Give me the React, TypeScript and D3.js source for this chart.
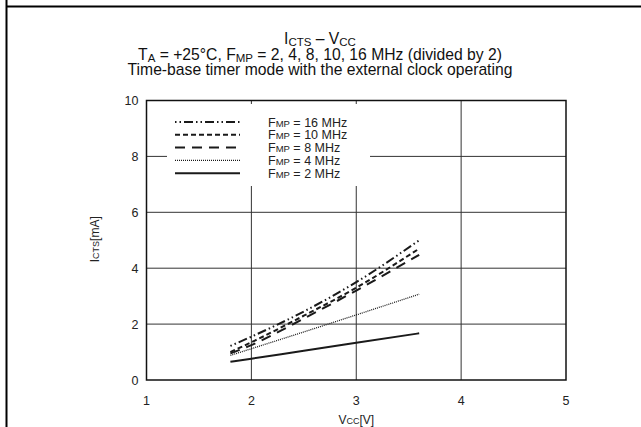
import React, { useRef, useEffect } from 'react';
import * as d3 from 'd3';

// Vcc sample points (V)
const vcc = [1.8, 2.0, 2.5, 3.0, 3.6];

// Icts (mA) per Fmp
const fmp16 = [1.22, 1.55, 2.45, 3.5, 5.0];
const fmp10 = [1.0, 1.35, 2.3, 3.3, 4.7];
const fmp8 = [0.95, 1.25, 2.2, 3.2, 4.48];
const fmp4 = [0.88, 1.12, 1.72, 2.33, 3.07];
const fmp2 = [0.65, 0.76, 1.05, 1.33, 1.67];

const xTicks = [1, 2, 3, 4, 5];
const yTicks = [0, 2, 4, 6, 8, 10];

const seriesNames = ['16', '10', '8', '4', '2'];

const App = () => {
  const chartRef = useRef(null);

  useEffect(() => {
    document.body.style.margin = '0';
    document.body.style.overflow = 'hidden';

    const W = 641, H = 427;
    const margin = { top: 100.5, left: 146.5 };
    const width = 566 - margin.left;
    const height = 380 - margin.top;
    const font = 'Liberation Sans, Arial, sans-serif';

    d3.select(chartRef.current).select('svg').remove();

    const root = d3.select(chartRef.current)
      .append('svg')
      .attr('width', W)
      .attr('height', H)
      .style('display', 'block')
      .style('font-family', font);

    root.append('rect').attr('width', W).attr('height', H).attr('fill', '#fff');

    // outer frame (top + left)
    root.append('line').attr('x1', 6.5).attr('x2', 6.5).attr('y1', 0).attr('y2', H)
      .attr('stroke', '#000').attr('stroke-width', 2);
    root.append('line').attr('x1', 6).attr('x2', W).attr('y1', 6.5).attr('y2', 6.5)
      .attr('stroke', '#000').attr('stroke-width', 2);

    // title
    const title = root.append('g').attr('text-anchor', 'middle').attr('font-size', 15.7).attr('fill', '#111');
    const t1 = title.append('text').attr('x', 320).attr('y', 43.5);
    t1.append('tspan').text('I');
    t1.append('tspan').attr('font-size', 11.5).attr('dy', 2.5).text('CTS');
    t1.append('tspan').attr('dy', -2.5).text(' – V');
    t1.append('tspan').attr('font-size', 11.5).attr('dy', 2.5).text('CC');
    const t2 = title.append('text').attr('x', 320).attr('y', 59.5);
    t2.append('tspan').text('T');
    t2.append('tspan').attr('font-size', 11.5).attr('dy', 2.5).text('A');
    t2.append('tspan').attr('dy', -2.5).text(' = +25°C, F');
    t2.append('tspan').attr('font-size', 11.5).attr('dy', 2.5).text('MP');
    t2.append('tspan').attr('dy', -2.5).text(' = 2, 4, 8, 10, 16 MHz (divided by 2)');
    title.append('text').attr('x', 320).attr('y', 75)
      .text('Time-base timer mode with the external clock operating');

    const svg = root.append('g')
      .attr('transform', `translate(${margin.left},${margin.top})`);

    const x = d3.scaleLinear().domain([1, 5]).range([0, width]);
    const y = d3.scaleLinear().domain([0, 10]).range([height, 0]);

    // grid
    svg.append('g')
      .selectAll('line')
      .data(xTicks.slice(1, -1))
      .enter()
      .append('line')
      .attr('x1', d => x(d)).attr('x2', d => x(d))
      .attr('y1', 0).attr('y2', height)
      .attr('stroke', '#333').attr('stroke-width', 1);
    svg.append('g')
      .selectAll('line')
      .data(yTicks.slice(1, -1))
      .enter()
      .append('line')
      .attr('x1', 0).attr('x2', width)
      .attr('y1', d => y(d)).attr('y2', d => y(d))
      .attr('stroke', '#333').attr('stroke-width', 1);

    // tick labels
    svg.append('g')
      .attr('font-size', 12.5).attr('fill', '#222').attr('text-anchor', 'end')
      .selectAll('text')
      .data(yTicks)
      .enter()
      .append('text')
      .attr('x', -8)
      .attr('y', d => y(d) + 4.5)
      .text(d => d);
    svg.append('g')
      .attr('font-size', 12.5).attr('fill', '#222').attr('text-anchor', 'middle')
      .selectAll('text')
      .data(xTicks)
      .enter()
      .append('text')
      .attr('x', d => x(d))
      .attr('y', height + 24.5)
      .text(d => d);

    // axis titles
    const xt = svg.append('text').attr('x', x(3)).attr('y', height + 43.5)
      .attr('text-anchor', 'middle').attr('font-size', 12).attr('fill', '#222');
    xt.append('tspan').text('V');
    xt.append('tspan').attr('font-size', 9).text('CC');
    xt.append('tspan').text('[V]');
    const yt = svg.append('text')
      .attr('transform', `translate(${-48},${y(5) - 1}) rotate(-90)`)
      .attr('text-anchor', 'middle').attr('font-size', 12).attr('fill', '#222');
    yt.append('tspan').text('I');
    yt.append('tspan').attr('font-size', 9).text('CTS');
    yt.append('tspan').text('[mA]');

    // series
    const styles = {
      '16': { dash: '1.5,3,1.5,3,9,3', w: 2 },
      '10': { dash: '5,3', w: 2 },
      '8': { dash: '10,7', w: 2 },
      '4': { dash: '1,1', w: 1.3 },
      '2': { dash: null, w: 2 },
    };
    const data = [
      { name: '16', values: fmp16 },
      { name: '10', values: fmp10 },
      { name: '8', values: fmp8 },
      { name: '4', values: fmp4 },
      { name: '2', values: fmp2 },
    ];

    const line = d3.line()
      .x((d, i) => x(vcc[i]))
      .y(d => y(d))
      .curve(d3.curveMonotoneX);

    svg.selectAll('.series')
      .data(data)
      .enter()
      .append('path')
      .attr('class', 'series')
      .attr('d', d => line(d.values))
      .attr('fill', 'none')
      .attr('stroke', '#1a1a1a')
      .attr('stroke-width', d => styles[d.name].w)
      .attr('stroke-dasharray', d => styles[d.name].dash);

    // legend
    const legend = root.append('g');
    legend.append('rect')
      .attr('x', 167).attr('y', 104).attr('width', 203).attr('height', 82)
      .attr('fill', '#fff');
    const rows = legend.selectAll('g.row')
      .data(seriesNames)
      .enter()
      .append('g')
      .attr('transform', (d, i) => `translate(0,${122 + i * 12.8})`);
    rows.append('line')
      .attr('x1', 175).attr('x2', 240).attr('y1', 0).attr('y2', 0)
      .attr('stroke', '#1a1a1a')
      .attr('stroke-width', d => styles[d].w)
      .attr('stroke-dasharray', d => styles[d].dash);
    const lt = rows.append('text')
      .attr('x', 268).attr('y', 4.5)
      .attr('font-size', 12.5).attr('fill', '#222');
    lt.append('tspan').text('F');
    lt.append('tspan').attr('font-size', 9.5).text('MP');
    lt.append('tspan').text(d => ` = ${d} MHz`);

    // plot frame
    svg.append('rect')
      .attr('width', width).attr('height', height)
      .attr('fill', 'none').attr('stroke', '#111').attr('stroke-width', 1.5);
  }, []);

  return <div ref={chartRef} />;
};

export default App;
